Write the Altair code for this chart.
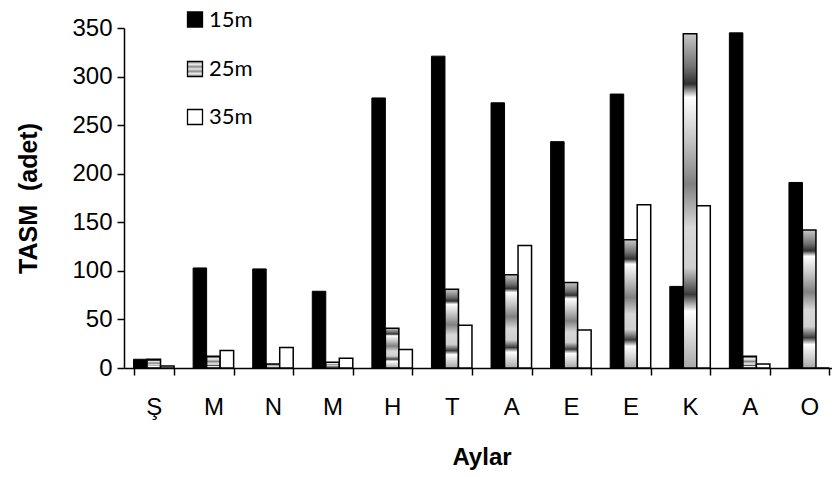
import json
import altair as alt
import pandas as pd

months = ["Ş", "M", "N", "M", "H", "T", "A", "E", "E", "K", "A", "O"]
series = ["15m", "25m", "35m"]
v15 = [9, 103, 102, 79, 278, 321, 273, 233, 282, 84, 345, 191]
v25 = [9, 12, 4, 6, 41, 81, 96, 88, 132, 344, 12, 142]
v35 = [2, 18, 21, 10, 19, 44, 126, 39, 168, 167, 4, 0]
y_ticks = [0, 50, 100, 150, 200, 250, 300, 350]

keys = [str(i) for i in range(len(months))]
rows = []
for s, vals in zip(series, [v15, v25, v35]):
    for k, v in zip(keys, vals):
        rows.append({"key": k, "series": s, "value": v})
df = pd.DataFrame(rows)

label_expr = json.dumps(months, ensure_ascii=False) + "[toNumber(datum.value)]"

AX_FONT = "Liberation Sans"

bar_grad = alt.Gradient(
    gradient="linear", x1=0, x2=0, y1=0, y2=1,
    stops=[
        alt.GradientStop(offset=0.0, color="#c8c8c8"),
        alt.GradientStop(offset=0.10, color="#707070"),
        alt.GradientStop(offset=0.15, color="#303030"),
        alt.GradientStop(offset=0.19, color="#ffffff"),
        alt.GradientStop(offset=0.32, color="#c4c4c4"),
        alt.GradientStop(offset=0.45, color="#808080"),
        alt.GradientStop(offset=0.58, color="#d8d8d8"),
        alt.GradientStop(offset=0.70, color="#cfcfcf"),
        alt.GradientStop(offset=0.78, color="#3a3a3a"),
        alt.GradientStop(offset=0.83, color="#ffffff"),
        alt.GradientStop(offset=1.0, color="#a8a8a8"),
    ],
)

legend_grad = alt.Gradient(
    gradient="linear", x1=0, x2=0, y1=0, y2=1,
    stops=[
        alt.GradientStop(offset=0.0, color="#9a9a9a"),
        alt.GradientStop(offset=0.2, color="#e8e8e8"),
        alt.GradientStop(offset=0.35, color="#8a8a8a"),
        alt.GradientStop(offset=0.5, color="#e8e8e8"),
        alt.GradientStop(offset=0.65, color="#8a8a8a"),
        alt.GradientStop(offset=0.8, color="#e8e8e8"),
        alt.GradientStop(offset=1.0, color="#9a9a9a"),
    ],
)

x_enc = alt.X(
    "key:N", sort=keys,
    scale=alt.Scale(range=[0, 715], paddingInner=0.32, paddingOuter=0.16),
    axis=alt.Axis(
        title="Aylar", labelExpr=label_expr, labelAngle=0, tickBand="extent",
        labelFontSize=24, labelPadding=20, tickSize=7, tickWidth=1.5,
        domainWidth=1.5, titleFontSize=24, titleFontWeight="bold", titlePadding=26,
    ),
)
xo_enc = alt.XOffset("series:N", scale=alt.Scale(domain=series, paddingInner=0, paddingOuter=0))
y_enc = alt.Y(
    "value:Q", scale=alt.Scale(domain=[0, 350], nice=False),
    axis=alt.Axis(
        title="TASM\u00a0\u00a0(adet)", values=y_ticks, grid=False,
        labelFontSize=24, labelPadding=5, tickSize=7, tickWidth=1.5,
        domainWidth=1.5, titleFontSize=25, titleFontWeight="bold", titlePadding=30,
    ),
)

base = alt.Chart(df).encode(x=x_enc, xOffset=xo_enc, y=y_enc)
b15 = base.transform_filter(alt.datum.series == "15m").mark_bar(fill="black", stroke="black", strokeWidth=1)
b25 = base.transform_filter(alt.datum.series == "25m").mark_bar(fill=bar_grad, stroke="black", strokeWidth=1.5)
b35 = base.transform_filter(alt.datum.series == "35m").mark_bar(fill="white", stroke="black", strokeWidth=1.5)


def legend_item(yc, fill, label):
    one = alt.Data(values=[{}])
    sq = alt.Chart(one).mark_rect(fill=fill, stroke="black", strokeWidth=1.3).encode(
        x=alt.value(63.5), x2=alt.value(78.5), y=alt.value(yc - 7.5), y2=alt.value(yc + 7.5)
    )
    tx = alt.Chart(one).mark_text(
        align="left", baseline="middle", fontSize=22, font="Lato", color="black"
    ).encode(x=alt.value(85), y=alt.value(yc), text=alt.value(label))
    return [sq, tx]


leg = []
leg += legend_item(-8.5, "black", series[0])
leg += legend_item(41, legend_grad, series[1])
leg += legend_item(89, "white", series[2])

chart = alt.layer(b15, b25, b35, *leg).properties(
    width=708, height=340,
    autosize=alt.AutoSizeParams(type="none"),
    padding={"left": 124, "top": 28, "right": 0, "bottom": 109},
    background="white",
).configure_view(stroke=None).configure_axis(
    domainColor="black", tickColor="black", labelColor="black", titleColor="black",
    labelFont=AX_FONT, titleFont=AX_FONT,
)

chart.save("out.html", embed_options={"renderer": "svg", "actions": False})
